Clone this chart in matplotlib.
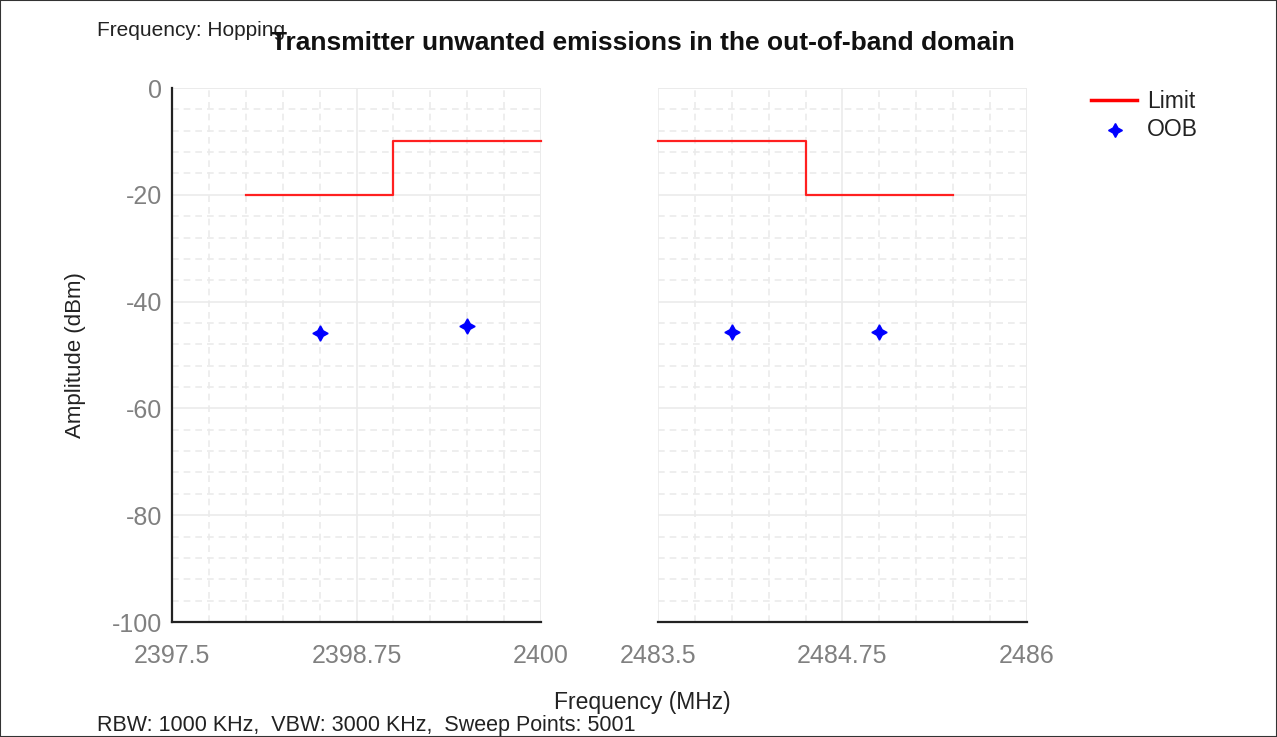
import matplotlib
matplotlib.use("Agg")
import matplotlib.pyplot as plt
from matplotlib.ticker import MultipleLocator
from matplotlib.lines import Line2D
from matplotlib.patches import Rectangle

plt.rcParams['font.family'] = ['Liberation Sans', 'DejaVu Sans']
plt.rcParams['axes.unicode_minus'] = False

# ---- data ----
left_limit_x = [2398.0, 2399.0, 2399.0, 2400.0]
left_limit_y = [-20, -20, -10, -10]
right_limit_x = [2483.5, 2484.5, 2484.5, 2485.5]
right_limit_y = [-10, -10, -20, -20]
left_oob_x = [2398.5, 2399.5]
left_oob_y = [-45.9, -44.6]
right_oob_x = [2484.0, 2485.0]
right_oob_y = [-45.7, -45.7]
left_xticks = [2397.5, 2398.75, 2400]
left_xlabels = ["2397.5", "2398.75", "2400"]
right_xticks = [2483.5, 2484.75, 2486]
right_xlabels = ["2483.5", "2484.75", "2486"]
yticks = [0, -20, -40, -60, -80, -100]

W, H = 1277, 737
fig = plt.figure(figsize=(W / 100, H / 100), dpi=100)

def px_axes(x0, x1, y0, y1):
    return fig.add_axes([x0 / W, 1 - y1 / H, (x1 - x0) / W, (y1 - y0) / H])

axL = px_axes(172, 541, 88, 622)
axR = px_axes(658, 1027, 88, 622)

grid_col = '#ebebeb'
for ax, xlim, xt, xl in [(axL, (2397.5, 2400), left_xticks, left_xlabels),
                         (axR, (2483.5, 2486), right_xticks, right_xlabels)]:
    ax.set_facecolor('none')
    ax.set_xlim(*xlim)
    ax.set_ylim(-100, 0)
    ax.set_xticks(xt)
    ax.set_xticklabels(xl)
    ax.xaxis.set_minor_locator(MultipleLocator(0.25))
    ax.yaxis.set_major_locator(MultipleLocator(20))
    ax.yaxis.set_minor_locator(MultipleLocator(4))
    ax.grid(which='major', color=grid_col, linestyle='-', linewidth=1.2)
    ax.grid(which='minor', color=grid_col, linestyle=(0, (4, 3)), linewidth=1.2)
    ax.axhline(0, color=grid_col, lw=1.2, zorder=0.5)
    ax.axvline(xlim[1], color=grid_col, lw=1.2, zorder=0.5)
    ax.set_axisbelow(True)
    for s in ['top', 'right']:
        ax.spines[s].set_visible(False)
    ax.spines['bottom'].set_color('#222222')
    ax.spines['bottom'].set_linewidth(1.6)
    ax.tick_params(which='both', length=0)
    ax.tick_params(axis='x', labelsize=18, labelcolor='#808080', pad=16)
    ax.tick_params(axis='y', labelsize=18, labelcolor='#808080', pad=7)

axL.spines['left'].set_color('#222222')
axL.spines['left'].set_linewidth(1.6)
axL.set_yticks(yticks)
axR.spines['left'].set_visible(False)
axR.set_yticks(yticks)
axR.tick_params(axis='y', labelleft=False)

for ax, lx, ly, ox, oy in [(axL, left_limit_x, left_limit_y, left_oob_x, left_oob_y),
                           (axR, right_limit_x, right_limit_y, right_oob_x, right_oob_y)]:
    ax.plot(lx, ly, color='#ff2020', lw=1.6, zorder=3, clip_on=False)
    ax.plot(ox, oy, linestyle='none', marker=(4, 1, 0), markersize=11, color='#0000ff', zorder=4)

# texts
fig.text(97 / W, 1 - 31 / H, "Frequency: Hopping", ha='left', va='center', fontsize=15, color='#222222')
fig.text(643 / W, 1 - 43 / H, "Transmitter unwanted emissions in the out-of-band domain",
         ha='center', va='center', fontsize=19, fontweight='bold', color='#111111')
fig.text(642 / W, 1 - 702 / H, "Frequency (MHz)", ha='center', va='center', fontsize=16.5, color='#222222')
fig.text(76 / W, 1 - 355 / H, "Amplitude (dBm)", ha='center', va='center', rotation=90, fontsize=16, color='#222222')
fig.text(97 / W, 1 - 725 / H, "RBW: 1000 KHz,  VBW: 3000 KHz,  Sweep Points: 5001",
         ha='left', va='center', fontsize=15.5, color='#222222')

# legend (manual, pixel placed)
fig.add_artist(Line2D([1091 / W, 1137 / W], [1 - 100 / H, 1 - 100 / H], color='#ff0000', lw=2.5))
fig.add_artist(Line2D([1115 / W], [1 - 130 / H], marker=(4, 1, 0), markersize=10, color='#0000ff', linestyle='none'))
fig.text(1147 / W, 1 - 101 / H, "Limit", ha='left', va='center', fontsize=16.5, color='#222222')
fig.text(1147 / W, 1 - 130 / H, "OOB", ha='left', va='center', fontsize=16.5, color='#222222')

# border
fig.add_artist(Rectangle((0, 0), 1, 1, transform=fig.transFigure, fill=False, edgecolor='#333333', lw=1.5))

fig.savefig("out.png", dpi=100)
